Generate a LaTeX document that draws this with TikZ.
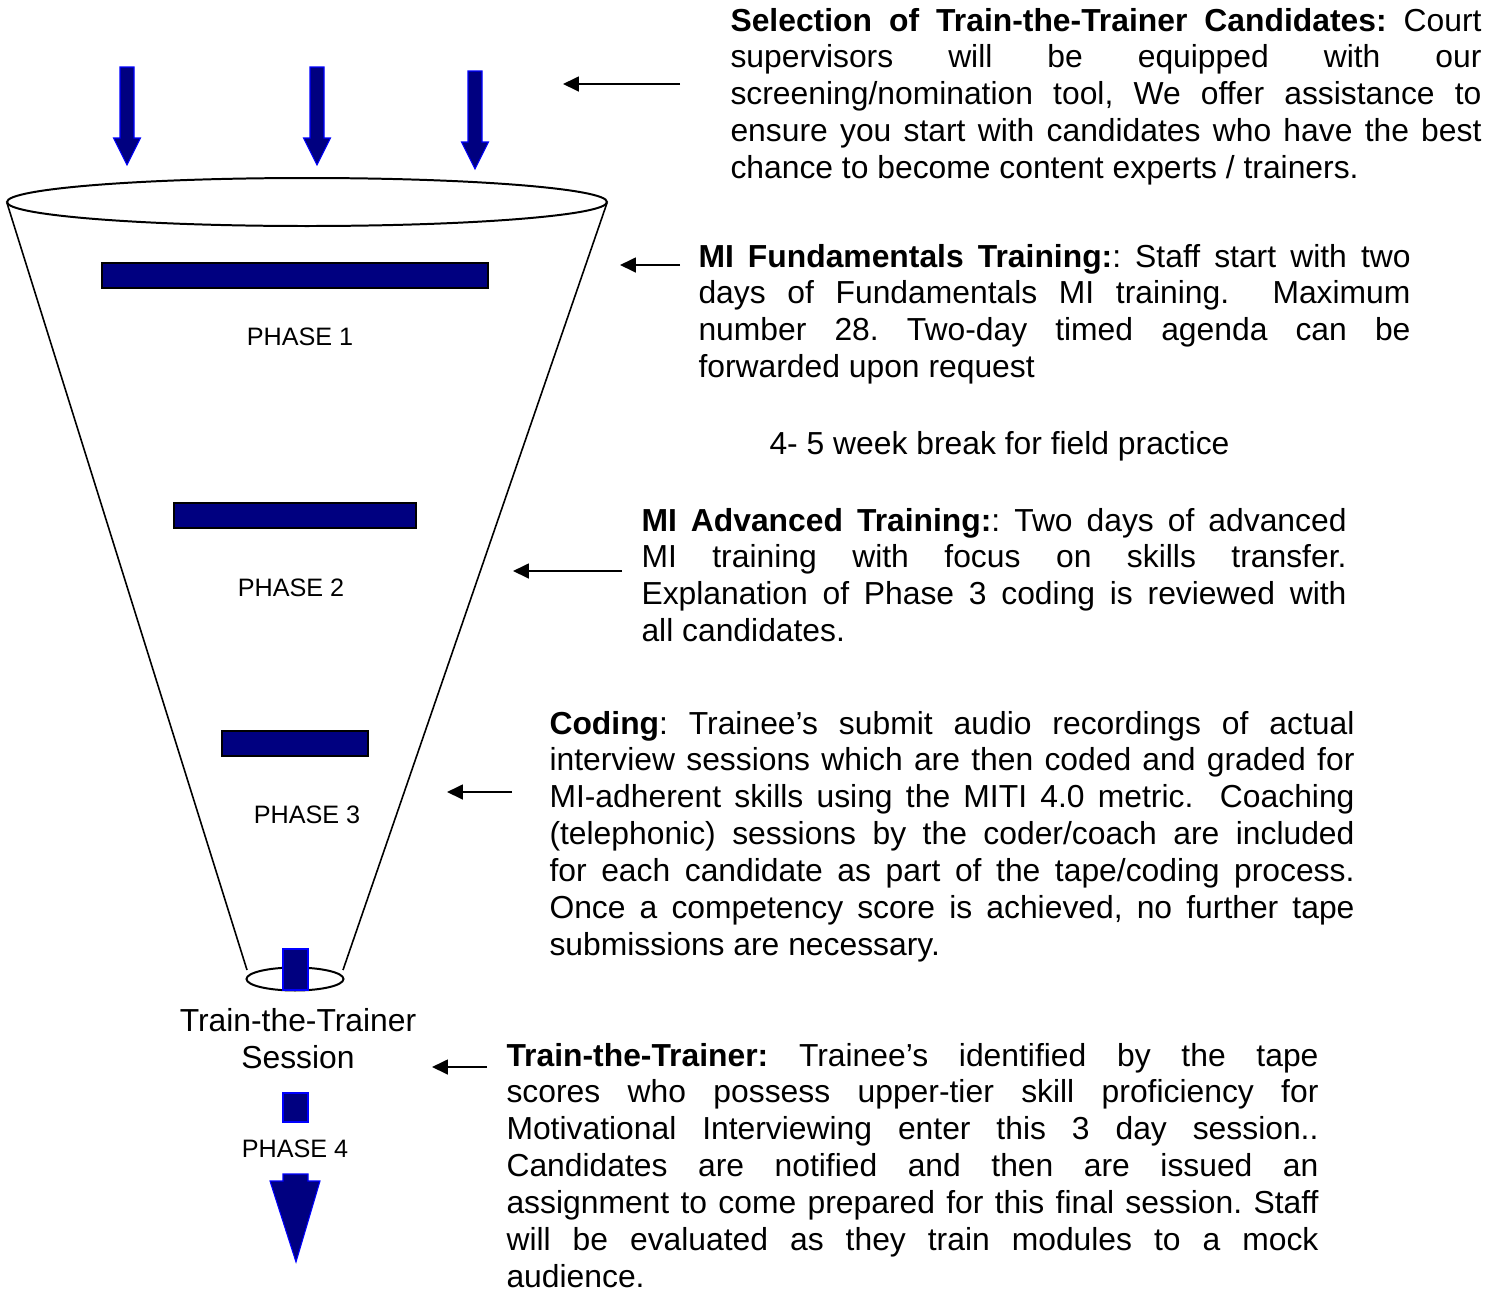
\documentclass[tikz,border=0pt]{standalone}
\usepackage{fontspec}
\setmainfont{Liberation Sans}
\usetikzlibrary{arrows.meta}
\definecolor{funnelnavy}{RGB}{0,0,128}
\definecolor{edgeblue}{RGB}{0,0,255}
\hyphenpenalty=10000
\exhyphenpenalty=10000
\tolerance=9999
\hbadness=10000
\frenchspacing

\begin{document}
\begin{tikzpicture}[x=0.377pt,y=-0.377pt,
	pointer/.style={-{Triangle[length=6pt,width=5.6pt]},line width=0.75pt},
	blockarrow/.style={fill=funnelnavy,draw=edgeblue,line width=0.4pt},
	bar/.style={fill=funnelnavy,draw=black,line width=0.4pt},
	phase/.style={anchor=base,inner sep=0pt,font=\fontsize{9.5}{11}\selectfont},
	blurb/.style={anchor=base west,inner sep=0pt,align=justify,
		font=\fontsize{12}{13.9}\selectfont}]
	\useasboundingbox (0,0) rectangle (1500,1293);

	\foreach \cx/\ty in {127/67,317/67,475/71}{
		\draw[blockarrow] (\cx-7,\ty) -- (\cx+7,\ty) -- (\cx+7,\ty+71)
			-- (\cx+13.5,\ty+71) -- (\cx,\ty+98) -- (\cx-13.5,\ty+71)
			-- (\cx-7,\ty+71) -- cycle;
	}

	\draw[line width=0.75pt] (307,202) ellipse [x radius=300,y radius=24];
	\draw[line width=0.6pt] (7,203) -- (247,970);
	\draw[line width=0.6pt] (607,203) -- (343,970);
	\draw[line width=0.75pt] (295,979) ellipse [x radius=48.5,y radius=11.5];

	\draw[bar] (102,263) rectangle (488,288);
	\draw[bar] (174,503) rectangle (416,528);
	\draw[bar] (222,731) rectangle (368,756);
	\draw[blockarrow] (283,949) rectangle (308,990);
	\draw[blockarrow] (283,1093) rectangle (308,1122);
	\draw[blockarrow] (283,1174) -- (308,1174) -- (308,1181) -- (320,1181)
		-- (296,1262) -- (270,1181) -- (283,1181) -- cycle;

	\node[phase] (phase1) at (300,345) {PHASE 1};
	\node[phase] (phase2) at (291,596) {PHASE 2};
	\node[phase] (phase3) at (307,823) {PHASE 3};
	\node[phase] (phase4) at (295,1157) {PHASE 4};
	\node[anchor=base,inner sep=0pt,align=center,
		font=\fontsize{12}{13.6}\selectfont] (session) at (298,1068)
		{Train-the-Trainer\\Session};

	\node[blurb,text width=751*0.377pt] (select) at (730,31)
		{\textbf{Selection of Train-the-Trainer Candidates:} Court\linebreak
		supervisors will be equipped with our\linebreak
		screening/nomination tool, We offer assistance to\linebreak
		ensure you start with candidates who have the best\linebreak
		chance to become content experts / trainers.};
	\node[blurb,text width=712*0.377pt] (fund) at (698,267)
		{\textbf{MI Fundamentals Training:}: Staff start with two\linebreak
		days of Fundamentals MI training.\ \ Maximum\linebreak
		number 28. Two-day timed agenda can be\linebreak
		forwarded upon request};
	\node[anchor=base west,inner sep=0pt,font=\fontsize{12}{13.9}\selectfont]
		(break) at (769,454) {4- 5 week break for field practice};
	\node[blurb,text width=705*0.377pt] (adv) at (641,531)
		{\textbf{MI Advanced Training:}: Two days of advanced\linebreak
		MI training with focus on skills transfer.\linebreak
		Explanation of Phase 3 coding is reviewed with\linebreak
		all candidates.};
	\node[blurb,text width=805*0.377pt] (coding) at (549,734)
		{\textbf{Coding}: Trainee’s submit audio recordings of actual\linebreak
		interview sessions which are then coded and graded for\linebreak
		MI-adherent skills using the MITI 4.0 metric.\ \ Coaching\linebreak
		(telephonic) sessions by the coder/coach are included\linebreak
		for each candidate as part of the tape/coding process.\linebreak
		Once a competency score is achieved, no further tape\linebreak
		submissions are necessary.};
	\node[blurb,text width=812*0.377pt] (ttt) at (506,1066)
		{\textbf{Train-the-Trainer:} Trainee’s identified by the tape\linebreak
		scores who possess upper-tier skill proficiency for\linebreak
		Motivational Interviewing enter this 3 day session..\linebreak
		Candidates are notified and then are issued an\linebreak
		assignment to come prepared for this final session. Staff\linebreak
		will be evaluated as they train modules to a mock\linebreak
		audience.};

	\coordinate (selectfrom) at (680,84);
	\coordinate (selectto) at (563,84);
	\coordinate (fundfrom) at (680,265);
	\coordinate (fundto) at (620,265);
	\coordinate (advfrom) at (622,571);
	\coordinate (advto) at (513,571);
	\coordinate (codingfrom) at (512,792);
	\coordinate (codingto) at (447,792);
	\coordinate (tttfrom) at (487,1067);
	\coordinate (tttto) at (432,1067);
	\draw[pointer] (selectfrom) -- (selectto);
	\draw[pointer] (fundfrom) -- (fundto);
	\draw[pointer] (advfrom) -- (advto);
	\draw[pointer] (codingfrom) -- (codingto);
	\draw[pointer] (tttfrom) -- (tttto);
\end{tikzpicture}
\end{document}
